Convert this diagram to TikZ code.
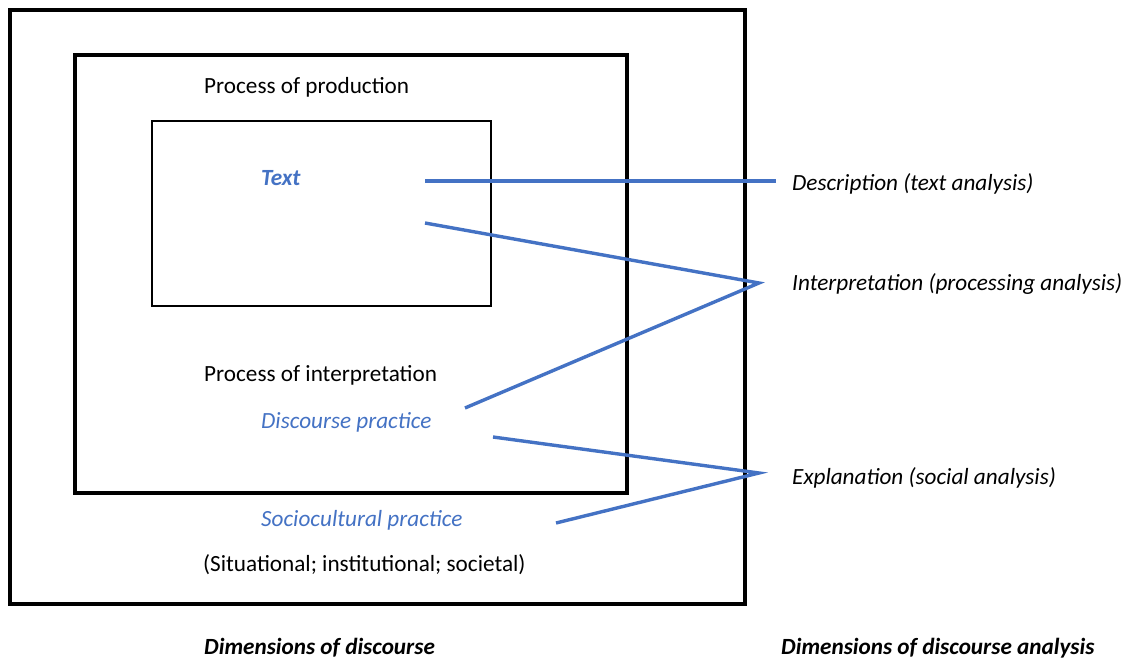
\documentclass[tikz,border=0pt]{standalone}
\usepackage{fontspec}
\setmainfont{Carlito}
\definecolor{lblue}{RGB}{68,114,196}
\begin{document}
\begin{tikzpicture}[x=1pt,y=-1pt,
  txt/.style={anchor=west,inner sep=0pt,font=\fontsize{23.2}{27}\selectfont},
  btxt/.style={txt,text=lblue,font=\fontsize{23.2}{27}\selectfont\itshape},
  link/.style={lblue,line width=3.4pt},
  box/.style={draw=black}]
\useasboundingbox (0,0) rectangle (1138,661);
\fill[white] (0,0) rectangle (1138,661);
\draw[box,line width=4.2pt] (10,10) rectangle (745,604);
\draw[box,line width=3.6pt] (75,55) rectangle (627,493);
\draw[box,line width=2.2pt] (152,121) rectangle (491,306);
\node[txt] (prod) at (204,87) {Process of production};
\node[btxt,font=\fontsize{23.2}{27}\selectfont\bfseries\itshape] (text) at (261,178) {Text};
\node[txt] (interp) at (204,375) {Process of interpretation};
\node[btxt] (disc) at (261,422) {Discourse practice};
\node[btxt] (socio) at (261,520) {Sociocultural practice};
\node[txt] (situ) at (203,565) {(Situational; institutional; societal)};
\node[txt,font=\fontsize{23.2}{27}\selectfont\bfseries\itshape] (dimd) at (204,648) {Dimensions of discourse};
\node[txt,font=\fontsize{23.2}{27}\selectfont\itshape] (desc) at (792,184) {Description (text analysis)};
\node[txt,font=\fontsize{23.2}{27}\selectfont\itshape] (intp) at (792,284) {Interpretation (processing analysis)};
\node[txt,font=\fontsize{23.2}{27}\selectfont\itshape] (expl) at (792,478) {Explanation (social analysis)};
\node[txt,font=\fontsize{23.2}{27}\selectfont\bfseries\itshape] (dimda) at (781,648) {Dimensions of discourse analysis};
\coordinate (t1) at (425,181);
\coordinate (d1) at (776,181);
\coordinate (t2) at (425,223);
\coordinate (ip) at (759,283);
\coordinate (dp) at (465,408);
\coordinate (d2) at (493,437);
\coordinate (ep) at (759,473);
\coordinate (sp) at (556,523);
\draw[link] (t1) -- (d1);
\draw[link,line join=miter] (t2) -- (ip) -- (dp);
\draw[link,line join=miter] (d2) -- (ep) -- (sp);
\end{tikzpicture}
\end{document}
